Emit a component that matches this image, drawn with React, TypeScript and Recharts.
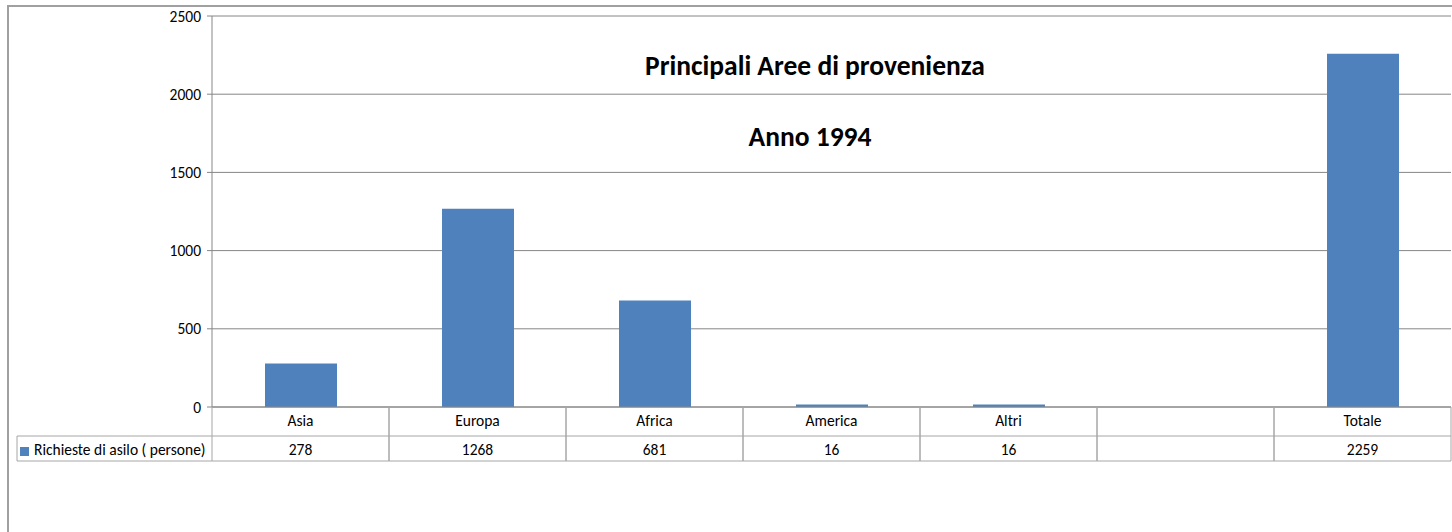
import React from "react";
import { BarChart, Bar, XAxis, YAxis, CartesianGrid, Customized } from "recharts";

const categories = ["Asia", "Europa", "Africa", "America", "Altri", "", "Totale"];
const requests: (number | null)[] = [278, 1268, 681, 16, 16, null, 2259];
const yTicks = [0, 500, 1000, 1500, 2000, 2500];
const seriesName = "Richieste di asilo ( persone)";
const titleLine1 = "Principali Aree di provenienza";
const titleLine2 = "Anno 1994";

const data = categories.map((name, i) => ({ name, value: requests[i] }));

const W = 1452;
const H = 532;
const PLOT_LEFT = 212;
const PLOT_RIGHT = 1451;
const BAND = (PLOT_RIGHT - PLOT_LEFT) / categories.length;
const ROW1 = 29;
const ROW2 = 25;
const FONT = "Carlito, Calibri, Lato, sans-serif";
const FS = 15.5;
const BLUE = "#4F81BD";
const AXIS = "#868686";
const TABLE = "#a6a6a6";

const CategoryTick = (props: any) => {
  const { x, y, payload } = props;
  const l = x - BAND / 2;
  const r = x + BAND / 2;
  return (
    <g>
      <line x1={l} y1={y} x2={l} y2={y + ROW1} stroke={TABLE} />
      <line x1={r} y1={y} x2={r} y2={y + ROW1} stroke={TABLE} />
      <text x={x} y={y + 19} textAnchor="middle" fontSize={FS} fontFamily={FONT} fill="#000">
        {payload.value}
      </text>
    </g>
  );
};

const ValueTick = (props: any) => {
  const { x, y, index } = props;
  const l = x - BAND / 2;
  const r = x + BAND / 2;
  const v = requests[index];
  return (
    <g>
      {index === 0 && (
        <g>
          <line x1={17} y1={y} x2={l} y2={y} stroke={TABLE} />
          <line x1={17} y1={y + ROW2} x2={l} y2={y + ROW2} stroke={TABLE} />
          <line x1={17} y1={y} x2={17} y2={y + ROW2} stroke={TABLE} />
          <rect x={20} y={y + 11} width={9} height={9} fill={BLUE} />
          <text x={34} y={y + 19} fontSize={FS} fontFamily={FONT} fill="#000">
            {seriesName}
          </text>
        </g>
      )}
      <line x1={l} y1={y} x2={r} y2={y} stroke={TABLE} />
      <line x1={l} y1={y + ROW2} x2={r} y2={y + ROW2} stroke={TABLE} />
      <line x1={l} y1={y} x2={l} y2={y + ROW2} stroke={TABLE} />
      <line x1={r} y1={y} x2={r} y2={y + ROW2} stroke={TABLE} />
      <text x={x} y={y + 19} textAnchor="middle" fontSize={FS} fontFamily={FONT} fill="#000">
        {v == null ? "" : String(v)}
      </text>
    </g>
  );
};

const Titles = () => (
  <g fontFamily={FONT} fontWeight="bold" fontSize={27.5} fill="#000">
    <text x={815} y={75} textAnchor="middle">{titleLine1}</text>
    <text x={810} y={146} textAnchor="middle">{titleLine2}</text>
  </g>
);

export default function App() {
  return (
    <div style={{ position: "absolute", left: 0, top: 0, width: W, height: H, overflow: "hidden", background: "#fff" }}>
      <div
        style={{
          position: "absolute",
          left: 7,
          top: 5,
          width: W + 20,
          height: H + 20,
          borderTop: "2px solid #a0a0a0",
          borderLeft: "2px solid #a0a0a0",
          boxSizing: "border-box",
        }}
      />
      <div style={{ position: "absolute", left: 0, top: 0 }}>
        <BarChart
          width={W}
          height={H}
          data={data}
          margin={{ top: 16, right: W - PLOT_RIGHT, left: PLOT_LEFT - 60, bottom: H - 407 - ROW1 - ROW2 }}
        >
          <CartesianGrid vertical={false} stroke={AXIS} strokeDasharray="" />
          <XAxis
            dataKey="name"
            xAxisId="cat"
            height={ROW1}
            tickLine={false}
            tickSize={0}
            tickMargin={0}
            axisLine={{ stroke: AXIS }}
            tick={<CategoryTick />}
            interval={0}
          />
          <XAxis
            dataKey="name"
            xAxisId="val"
            height={ROW2}
            tickLine={false}
            tickSize={0}
            tickMargin={0}
            axisLine={false}
            tick={<ValueTick />}
            interval={0}
          />
          <YAxis
            width={60}
            domain={[0, 2500]}
            ticks={yTicks}
            tickSize={5}
            tickMargin={6}
            axisLine={{ stroke: AXIS }}
            tickLine={{ stroke: AXIS }}
            tick={{ fontSize: FS, fontFamily: FONT, fill: "#000" }}
            interval={0}
          />
          <Bar dataKey="value" xAxisId="cat" fill={BLUE} barSize={72} isAnimationActive={false} name={seriesName} />
          <Customized component={<Titles />} />
        </BarChart>
      </div>
    </div>
  );
}
